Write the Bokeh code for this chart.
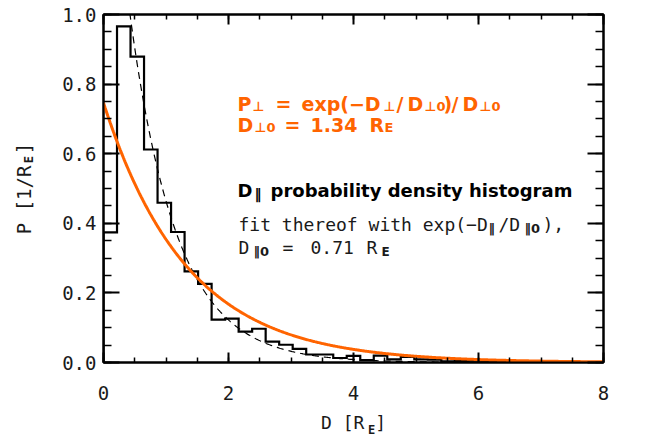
import numpy as np
from bokeh.plotting import figure
from bokeh.models import (Range1d, LinearAxis, SingleIntervalTicker, FixedTicker, Label,
                          PrintfTickFormatter, CustomJSTickFormatter)
from bokeh.embed import file_html
from bokeh.resources import INLINE

# ---------------- data ----------------
hist_density = [0.374, 0.966, 0.879, 0.612, 0.459, 0.375, 0.262, 0.226, 0.123, 0.126,
                0.089, 0.097, 0.060, 0.051, 0.039, 0.023, 0.023, 0.013, 0.019, 0.007,
                0.020, 0.009, 0.016, 0.009, 0.008, 0.003, 0.004, 0.005, 0.003, 0.002,
                0.002, 0.001, 0.001, 0.001, 0.000, 0.001, 0.000]
d_min, d_max = 0.0, 8.0
p_min, p_max = 0.0, 1.0
perp_d0 = 1.34          # orange model: exp(-D/D0)/D0
par_fit_tau = 0.75      # dashed fit decay length (as drawn)
par_fit_amp = 1.76      # dashed fit amplitude (as drawn)
x_tick_step, y_tick_step = 2, 0.2

ORANGE = "#FF6400"
INK = "#1a1a1a"
MONO = "DejaVu Sans Mono"
NBSP = "\u00a0"

# ---------------- figure ----------------
p = figure(frame_width=500, frame_height=348,
           x_range=Range1d(d_min, d_max), y_range=Range1d(p_min, p_max),
           output_backend="svg", toolbar_location=None,
           min_border_left=103, min_border_right=40, min_border_top=14, min_border_bottom=74,
           background_fill_color="white", border_fill_color="white")
p.grid.visible = False
p.outline_line_color = "black"
p.outline_line_width = 2


def style_axis(ax, major_in, minor_in, labels=True):
    ax.axis_line_color = "black"
    ax.axis_line_width = 2
    ax.major_tick_in = major_in
    ax.major_tick_out = 0
    ax.minor_tick_in = minor_in
    ax.minor_tick_out = 0
    ax.major_tick_line_width = 2
    ax.minor_tick_line_width = 1.5
    ax.major_tick_line_color = "black"
    ax.minor_tick_line_color = "black"
    if labels:
        ax.major_label_text_font = MONO
        ax.major_label_text_font_size = "19px"
        ax.major_label_text_color = INK
    else:
        ax.axis_label = None
        ax.formatter = CustomJSTickFormatter(code="return ''")
        ax.major_label_text_font_size = "0px"
        ax.major_label_standoff = 0


p.xaxis.ticker = SingleIntervalTicker(interval=x_tick_step, num_minor_ticks=4)
p.xaxis.formatter = PrintfTickFormatter(format="%d")
style_axis(p.xaxis[0], 10, 5)
p.xaxis.major_label_standoff = 23
p.xaxis.axis_label = "D [R ]"
p.xaxis.axis_label_text_font = MONO
p.xaxis.axis_label_text_font_size = "18px"
p.xaxis.axis_label_text_font_style = "normal"
p.xaxis.axis_label_text_color = INK
p.xaxis.axis_label_standoff = 9

p.yaxis.ticker = SingleIntervalTicker(interval=y_tick_step, num_minor_ticks=4)
p.yaxis.formatter = PrintfTickFormatter(format="%.1f")
style_axis(p.yaxis[0], 16, 8)
p.yaxis.major_label_standoff = 7
p.yaxis.axis_label = "P [1/R ]"
p.yaxis.axis_label_text_font = MONO
p.yaxis.axis_label_text_font_size = "19px"
p.yaxis.axis_label_text_font_style = "normal"
p.yaxis.axis_label_text_color = INK
p.yaxis.axis_label_standoff = 24

top = LinearAxis(ticker=SingleIntervalTicker(interval=x_tick_step, num_minor_ticks=4))
style_axis(top, 10, 5, labels=False)
p.add_layout(top, "above")
right = LinearAxis(ticker=SingleIntervalTicker(interval=y_tick_step, num_minor_ticks=4))
style_axis(right, 16, 8, labels=False)
p.add_layout(right, "right")


def sub_axis(text, standoff):
    return LinearAxis(ticker=FixedTicker(ticks=[]), axis_line_color=None,
                      major_tick_line_color=None, minor_tick_line_color=None,
                      major_label_text_font_size="0px", major_label_standoff=0,
                      axis_label=text, axis_label_text_font=MONO,
                      axis_label_text_font_size="12px", axis_label_text_font_style="bold",
                      axis_label_text_color=INK, axis_label_standoff=standoff)


p.add_layout(sub_axis(NBSP * 5 + "E", -13), "below")
p.add_layout(sub_axis(NBSP * 8 + "E", -25), "left")

# ---------------- curves ----------------
n_bins = len(hist_density)
edges = np.linspace(d_min, d_max, n_bins + 1)
xs = [edges[0]]
ys = [0.0]
for i, v in enumerate(hist_density):
    xs += [edges[i], edges[i + 1]]
    ys += [v, v]
xs.append(edges[-1])
ys.append(0.0)

d = np.linspace(d_min, d_max, 600)
fit_curve = par_fit_amp * np.exp(-d / par_fit_tau)
perp_curve = np.exp(-d / perp_d0) / perp_d0

p.line(d, fit_curve, line_color="black", line_width=1.2, line_dash="7 5")
p.line(xs, ys, line_color="black", line_width=2.2, line_join="miter")
p.line(d, perp_curve, line_color=ORANGE, line_width=3)

# ---------------- text inside the frame ----------------
FR_L, FR_B = 103, 362   # frame left / bottom in page pixels (for placing texts)


def piece(text, px, py, size, color="black", bold=False, font="DejaVu Sans"):
    p.add_layout(Label(x=px - FR_L, y=FR_B - py, x_units="screen", y_units="screen",
                       text=text, text_font=font, text_font_size=f"{size}px",
                       text_font_style="bold" if bold else "normal",
                       text_color=color, text_baseline="alphabetic", text_align="left"))


PERP, PAR = "⊥", "‖"

# orange line 1: P⊥ = exp(−D⊥/D⊥0)/D⊥0
b1, s1 = 103, 106
for t, x in [("P", 237), ("=", 275), ("exp(−D", 301), ("/", 396), ("D", 407),
             (")", 443), ("/", 451), ("D", 462)]:
    piece(t, x, b1, 19, ORANGE, True)
for t, x in [(PERP, 252), (PERP, 383), (PERP + "0", 424), (PERP + "0", 479)]:
    piece(t, x, s1, 13, ORANGE, True)
# orange line 2: D⊥0 = 1.34 RE
b2, s2 = 124, 127
for t, x in [("D", 237), ("=", 284), ("1.34", 310), ("R", 369)]:
    piece(t, x, b2, 19, ORANGE, True)
for t, x in [(PERP + "0", 254), ("E", 384)]:
    piece(t, x, s2, 13, ORANGE, True)

# black bold title
piece("D", 237, 190, 18, "black", True)
piece(PAR, 254, 193, 14, "black", True)
piece("probability density histogram", 270, 190, 18, "black", True)

# regular lines
piece("fit thereof with exp(−D", 238, 224, 18, INK, False, MONO)
piece(PAR, 488, 228, 13, INK, True, "DejaVu Sans")
piece("/D", 498, 224, 18, INK, False, MONO)
piece(PAR + "0", 524, 228, 13, INK, True, "DejaVu Sans")
piece("),", 542, 224, 18, INK, False, MONO)

piece("D", 238, 247, 18, INK, False, MONO)
piece(PAR + "0", 253, 251, 13, INK, True, "DejaVu Sans")
piece("=", 282, 247, 18, INK, False, MONO)
piece("0.71", 310, 247, 18, INK, False, MONO)
piece("R", 366, 247, 18, INK, False, MONO)
piece("E", 381, 251, 12, INK, True)

open("out.html", "w").write(file_html(p, INLINE))
